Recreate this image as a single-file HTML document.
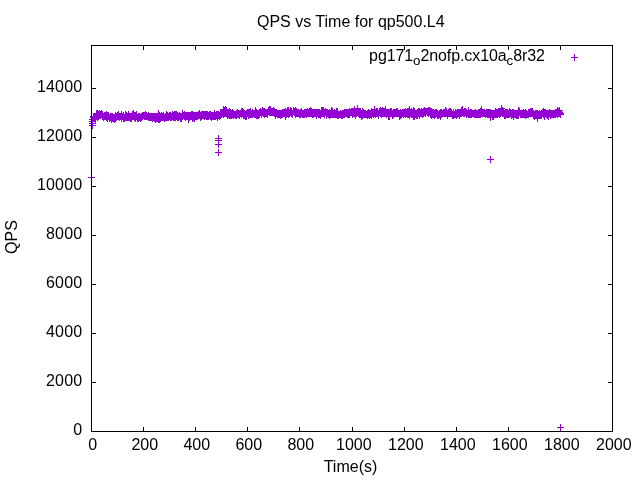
<!DOCTYPE html><html><head><meta charset="utf-8"><title>QPS vs Time for qp500.L4</title>
<style>html,body{margin:0;padding:0;background:#fff;overflow:hidden}svg{display:block}text{font-family:"Liberation Sans",sans-serif;font-size:16px;fill:#000}</style></head><body>
<svg width="640" height="480" viewBox="0 0 640 480">
<rect width="640" height="480" fill="#fff"/>
<path d="M91.5 431.5h4.5M612.5 431.5h-4.5M91.5 382.5h4.5M612.5 382.5h-4.5M91.5 333.5h4.5M612.5 333.5h-4.5M91.5 284.5h4.5M612.5 284.5h-4.5M91.5 235.5h4.5M612.5 235.5h-4.5M91.5 186.5h4.5M612.5 186.5h-4.5M91.5 137.5h4.5M612.5 137.5h-4.5M91.5 88.5h4.5M612.5 88.5h-4.5M91.5 431.5v-4.5M91.5 45.5v4.5M143.5 431.5v-4.5M143.5 45.5v4.5M195.5 431.5v-4.5M195.5 45.5v4.5M247.5 431.5v-4.5M247.5 45.5v4.5M299.5 431.5v-4.5M299.5 45.5v4.5M352.5 431.5v-4.5M352.5 45.5v4.5M404.5 431.5v-4.5M404.5 45.5v4.5M456.5 431.5v-4.5M456.5 45.5v4.5M508.5 431.5v-4.5M508.5 45.5v4.5M560.5 431.5v-4.5M560.5 45.5v4.5M612.5 431.5v-4.5M612.5 45.5v4.5" stroke="#000" stroke-width="1" fill="none"/>
<path d="M94.5 117 95.5 117 96.5 115 97.5 115 98.5 115 99.5 115 100.5 115 101.5 115 102.5 117 104.5 117 105.5 117 106.5 117 107.5 117 108.5 117 109.5 117 110.5 117 111.5 117 112.5 117 113.5 117 114.5 117 115.5 117 116.5 117 117.5 117 118.5 117 119.5 117 120.5 117 121.5 117 122.5 117 123.5 117 124.5 117 125.5 116 126.5 116 127.5 116 129.5 116 130.5 116 131.5 116 132.5 116 133.5 116 134.5 116 135.5 116 136.5 116 137.5 116 138.5 116 139.5 116 140.5 116 141.5 116 142.5 116 143.5 116 144.5 116 145.5 116 146.5 116 147.5 116 148.5 116 149.5 116 150.5 116 151.5 116 152.5 116 154.5 116 155.5 116 156.5 116 157.5 116 158.5 116 159.5 116 160.5 116 161.5 116 162.5 116 163.5 116 164.5 116 165.5 116 166.5 116 167.5 116 168.5 116 169.5 116 170.5 116 171.5 116 172.5 116 173.5 116 174.5 116 175.5 116 176.5 116 177.5 116 179.5 116 180.5 116 181.5 116 182.5 116 183.5 116 184.5 116 185.5 116 186.5 116 187.5 116 188.5 116 189.5 116 190.5 116 191.5 116 192.5 116 193.5 116 194.5 116 195.5 116 196.5 116 197.5 116 198.5 116 199.5 116 200.5 116 201.5 116 202.5 116 204.5 116 205.5 116 206.5 116 207.5 116 208.5 116 209.5 116 210.5 116 211.5 116 212.5 116 213.5 116 214.5 116 215.5 116 216.5 116 217.5 115 218.5 115 219.5 115 220.5 114 221.5 114 222.5 113 223.5 113 224.5 113 225.5 113 226.5 113 228.5 113 229.5 113 230.5 113 231.5 113 232.5 113 233.5 113 234.5 113 235.5 113 236.5 113 237.5 113 238.5 113 239.5 113 240.5 113 241.5 113 242.5 113 243.5 113 244.5 113 245.5 113 246.5 113 247.5 113 248.5 113 249.5 113 250.5 113 251.5 113 253.5 113 254.5 113 255.5 113 256.5 113 257.5 113 258.5 113 259.5 113 260.5 113 261.5 113 262.5 113 263.5 113 264.5 113 265.5 113 266.5 113 267.5 113 268.5 113 269.5 113 270.5 113 271.5 113 272.5 113 273.5 113 274.5 113 275.5 113 276.5 113 278.5 113 279.5 113 280.5 113 281.5 113 282.5 113 283.5 113 284.5 113 285.5 113 286.5 113 287.5 113 288.5 113 289.5 113 290.5 113 291.5 113 292.5 113 293.5 113 294.5 113 295.5 113 296.5 113 297.5 113 298.5 113 299.5 113 300.5 113 301.5 113 303.5 113 304.5 113 305.5 113 306.5 113 307.5 113 308.5 113 309.5 113 310.5 113 311.5 113 312.5 113 313.5 113 314.5 113 315.5 113 316.5 113 317.5 113 318.5 113 319.5 113 320.5 113 321.5 113 322.5 113 323.5 113 324.5 113 325.5 113 326.5 113 328.5 113 329.5 113 330.5 113 331.5 113 332.5 113 333.5 113 334.5 113 335.5 113 336.5 113 337.5 113 338.5 113 339.5 113 340.5 113 341.5 113 342.5 113 343.5 113 344.5 113 345.5 113 346.5 113 347.5 113 348.5 113 349.5 113 350.5 113 352.5 113 353.5 113 354.5 113 355.5 113 356.5 113 357.5 113 358.5 113 359.5 113 360.5 113 361.5 113 362.5 113 363.5 113 364.5 113 365.5 113 366.5 113 367.5 113 368.5 113 369.5 113 370.5 113 371.5 113 372.5 113 373.5 113 374.5 113 375.5 113 377.5 113 378.5 113 379.5 113 380.5 113 381.5 113 382.5 113 383.5 113 384.5 113 385.5 113 386.5 113 387.5 113 388.5 113 389.5 113 390.5 113 391.5 113 392.5 113 393.5 113 394.5 113 395.5 113 396.5 113 397.5 113 398.5 113 399.5 113 400.5 113 402.5 113 403.5 113 404.5 113 405.5 113 406.5 113 407.5 113 408.5 113 409.5 113 410.5 113 411.5 113 412.5 113 413.5 113 414.5 113 415.5 113 416.5 113 417.5 113 418.5 113 419.5 113 420.5 113 421.5 113 422.5 113 423.5 113 424.5 113 425.5 113 427.5 113 428.5 113 429.5 113 430.5 113 431.5 113 432.5 113 433.5 113 434.5 113 435.5 113 436.5 113 437.5 113 438.5 113 439.5 113 440.5 113 441.5 113 442.5 113 443.5 113 444.5 113 445.5 113 446.5 113 447.5 113 448.5 113 449.5 113 450.5 113 452.5 113 453.5 113 454.5 113 455.5 113 456.5 113 457.5 113 458.5 113 459.5 113 460.5 113 461.5 113 462.5 113 463.5 113 464.5 113 465.5 113 466.5 113 467.5 113 468.5 113 469.5 113 470.5 113 471.5 113 472.5 113 473.5 113 474.5 113 475.5 113 477.5 113 478.5 113 479.5 113 480.5 113 481.5 113 482.5 113 483.5 113 484.5 113 485.5 113 486.5 113 487.5 113 488.5 113 489.5 113 490.5 113 491.5 113 492.5 113 493.5 113 494.5 113 495.5 113 496.5 113 497.5 113 498.5 113 499.5 113 501.5 113 502.5 113 503.5 113 504.5 113 505.5 113 506.5 113 507.5 113 508.5 113 509.5 113 510.5 113 511.5 113 512.5 113 513.5 113 514.5 113 515.5 113 516.5 113 517.5 113 518.5 113 519.5 113 520.5 113 521.5 113 522.5 113 523.5 113 524.5 113 526.5 113 527.5 113 528.5 113 529.5 113 530.5 113 531.5 113 532.5 113 533.5 113 534.5 113 535.5 113 536.5 113 537.5 113 538.5 113 539.5 113 540.5 113 541.5 113 542.5 113 543.5 113 544.5 113 545.5 113 546.5 113 547.5 113 548.5 113 549.5 113 551.5 113 552.5 113 553.5 113 554.5 113 555.5 113 556.5 113 557.5 113" stroke="#9400d3" stroke-width="3" fill="none"/>
<path d="M89 125.5h7M92.5 122v7M89 123.5h7M92.5 120v7M89 121.5h7M92.5 118v7M89 119.5h7M92.5 116v7M90 117.5h7M93.5 114v7M90 116.5h7M93.5 113v7M91 116.5h7M94.5 113v7M93 116.5h7M96.5 113v7M94 117.5h7M97.5 114v7M91 117.5h7M94.5 114v7M92 119.5h7M95.5 116v7M92 116.5h7M95.5 113v7M92 117.5h7M95.5 114v7M93 115.5h7M96.5 112v7M93 114.5h7M96.5 111v7M93 113.5h7M96.5 110v7M94 114.5h7M97.5 111v7M94 113.5h7M97.5 110v7M95 114.5h7M98.5 111v7M95 115.5h7M98.5 112v7M96 114.5h7M99.5 111v7M96 113.5h7M99.5 110v7M96 115.5h7M99.5 112v7M97 114.5h7M100.5 111v7M97 115.5h7M100.5 112v7M98 113.5h7M101.5 110v7M98 114.5h7M101.5 111v7M99 114.5h7M102.5 111v7M99 116.5h7M102.5 113v7M100 117.5h7M103.5 114v7M100 116.5h7M103.5 113v7M101 115.5h7M104.5 112v7M101 116.5h7M104.5 113v7M102 116.5h7M105.5 113v7M102 115.5h7M105.5 112v7M103 114.5h7M106.5 111v7M103 116.5h7M106.5 113v7M103 117.5h7M106.5 114v7M104 116.5h7M107.5 113v7M104 118.5h7M107.5 115v7M104 115.5h7M107.5 112v7M104 117.5h7M107.5 114v7M105 116.5h7M108.5 113v7M105 115.5h7M108.5 112v7M106 117.5h7M109.5 114v7M106 118.5h7M109.5 115v7M107 116.5h7M110.5 113v7M107 117.5h7M110.5 114v7M108 119.5h7M111.5 116v7M108 118.5h7M111.5 115v7M108 116.5h7M111.5 113v7M109 116.5h7M112.5 113v7M109 118.5h7M112.5 115v7M109 117.5h7M112.5 114v7M110 117.5h7M113.5 114v7M110 118.5h7M113.5 115v7M111 117.5h7M114.5 114v7M111 118.5h7M114.5 115v7M111 119.5h7M114.5 116v7M112 118.5h7M115.5 115v7M112 117.5h7M115.5 114v7M112 115.5h7M115.5 112v7M113 117.5h7M116.5 114v7M113 116.5h7M116.5 113v7M114 115.5h7M117.5 112v7M114 116.5h7M117.5 113v7M115 115.5h7M118.5 112v7M115 114.5h7M118.5 111v7M115 116.5h7M118.5 113v7M116 116.5h7M119.5 113v7M116 117.5h7M119.5 114v7M117 116.5h7M120.5 113v7M118 118.5h7M121.5 115v7M118 116.5h7M121.5 113v7M118 114.5h7M121.5 111v7M119 116.5h7M122.5 113v7M120 118.5h7M123.5 115v7M120 115.5h7M123.5 112v7M120 117.5h7M123.5 114v7M121 118.5h7M124.5 115v7M121 117.5h7M124.5 114v7M122 117.5h7M125.5 114v7M122 116.5h7M125.5 113v7M122 114.5h7M125.5 111v7M123 117.5h7M126.5 114v7M123 115.5h7M126.5 112v7M124 116.5h7M127.5 113v7M124 117.5h7M127.5 114v7M125 117.5h7M128.5 114v7M125 114.5h7M128.5 111v7M125 116.5h7M128.5 113v7M126 116.5h7M129.5 113v7M126 117.5h7M129.5 114v7M127 116.5h7M130.5 113v7M127 118.5h7M130.5 115v7M128 116.5h7M131.5 113v7M128 117.5h7M131.5 114v7M128 118.5h7M131.5 115v7M129 116.5h7M132.5 113v7M129 114.5h7M132.5 111v7M130 113.5h7M133.5 110v7M130 115.5h7M133.5 112v7M130 116.5h7M133.5 113v7M131 117.5h7M134.5 114v7M131 116.5h7M134.5 113v7M131 115.5h7M134.5 112v7M132 115.5h7M135.5 112v7M132 117.5h7M135.5 114v7M132 118.5h7M135.5 115v7M132 116.5h7M135.5 113v7M133 115.5h7M136.5 112v7M133 114.5h7M136.5 111v7M133 116.5h7M136.5 113v7M134 117.5h7M137.5 114v7M134 118.5h7M137.5 115v7M135 117.5h7M138.5 114v7M135 116.5h7M138.5 113v7M135 118.5h7M138.5 115v7M136 116.5h7M139.5 113v7M136 117.5h7M139.5 114v7M137 117.5h7M140.5 114v7M137 118.5h7M140.5 115v7M138 117.5h7M141.5 114v7M138 116.5h7M141.5 113v7M139 116.5h7M142.5 113v7M139 115.5h7M142.5 112v7M140 115.5h7M143.5 112v7M141 116.5h7M144.5 113v7M141 115.5h7M144.5 112v7M142 115.5h7M145.5 112v7M142 116.5h7M145.5 113v7M142 114.5h7M145.5 111v7M143 115.5h7M146.5 112v7M143 116.5h7M146.5 113v7M144 116.5h7M147.5 113v7M145 117.5h7M148.5 114v7M145 115.5h7M148.5 112v7M145 116.5h7M148.5 113v7M146 117.5h7M149.5 114v7M146 116.5h7M149.5 113v7M147 116.5h7M150.5 113v7M147 117.5h7M150.5 114v7M148 116.5h7M151.5 113v7M148 117.5h7M151.5 114v7M149 118.5h7M152.5 115v7M149 116.5h7M152.5 113v7M150 116.5h7M153.5 113v7M150 117.5h7M153.5 114v7M151 118.5h7M154.5 115v7M151 116.5h7M154.5 113v7M151 117.5h7M154.5 114v7M152 119.5h7M155.5 116v7M152 118.5h7M155.5 115v7M152 117.5h7M155.5 114v7M153 117.5h7M156.5 114v7M153 118.5h7M156.5 115v7M153 116.5h7M156.5 113v7M154 116.5h7M157.5 113v7M154 117.5h7M157.5 114v7M154 118.5h7M157.5 115v7M155 119.5h7M158.5 116v7M155 117.5h7M158.5 114v7M155 113.5h7M158.5 110v7M155 115.5h7M158.5 112v7M156 115.5h7M159.5 112v7M156 119.5h7M159.5 116v7M157 117.5h7M160.5 114v7M157 116.5h7M160.5 113v7M157 118.5h7M160.5 115v7M158 115.5h7M161.5 112v7M158 116.5h7M161.5 113v7M158 117.5h7M161.5 114v7M159 116.5h7M162.5 113v7M159 117.5h7M162.5 114v7M160 116.5h7M163.5 113v7M160 117.5h7M163.5 114v7M160 115.5h7M163.5 112v7M161 117.5h7M164.5 114v7M161 118.5h7M164.5 115v7M162 117.5h7M165.5 114v7M162 116.5h7M165.5 113v7M163 115.5h7M166.5 112v7M163 116.5h7M166.5 113v7M163 117.5h7M166.5 114v7M163 114.5h7M166.5 111v7M164 116.5h7M167.5 113v7M164 115.5h7M167.5 112v7M164 117.5h7M167.5 114v7M165 117.5h7M168.5 114v7M165 116.5h7M168.5 113v7M166 115.5h7M169.5 112v7M166 116.5h7M169.5 113v7M167 116.5h7M170.5 113v7M167 117.5h7M170.5 114v7M167 115.5h7M170.5 112v7M168 117.5h7M171.5 114v7M168 116.5h7M171.5 113v7M169 114.5h7M172.5 111v7M169 116.5h7M172.5 113v7M170 116.5h7M173.5 113v7M170 117.5h7M173.5 114v7M170 115.5h7M173.5 112v7M171 117.5h7M174.5 114v7M171 115.5h7M174.5 112v7M171 114.5h7M174.5 111v7M171 116.5h7M174.5 113v7M172 115.5h7M175.5 112v7M172 116.5h7M175.5 113v7M172 117.5h7M175.5 114v7M172 114.5h7M175.5 111v7M173 114.5h7M176.5 111v7M173 116.5h7M176.5 113v7M174 116.5h7M177.5 113v7M174 117.5h7M177.5 114v7M174 115.5h7M177.5 112v7M175 116.5h7M178.5 113v7M175 117.5h7M178.5 114v7M176 115.5h7M179.5 112v7M176 116.5h7M179.5 113v7M177 117.5h7M180.5 114v7M177 116.5h7M180.5 113v7M177 118.5h7M180.5 115v7M178 116.5h7M181.5 113v7M178 117.5h7M181.5 114v7M178 118.5h7M181.5 115v7M179 115.5h7M182.5 112v7M179 116.5h7M182.5 113v7M179 113.5h7M182.5 110v7M180 115.5h7M183.5 112v7M181 114.5h7M184.5 111v7M181 116.5h7M184.5 113v7M182 116.5h7M185.5 113v7M182 115.5h7M185.5 112v7M182 117.5h7M185.5 114v7M183 116.5h7M186.5 113v7M183 115.5h7M186.5 112v7M184 115.5h7M187.5 112v7M184 116.5h7M187.5 113v7M185 119.5h7M188.5 116v7M185 115.5h7M188.5 112v7M186 115.5h7M189.5 112v7M186 116.5h7M189.5 113v7M186 117.5h7M189.5 114v7M187 116.5h7M190.5 113v7M187 115.5h7M190.5 112v7M188 115.5h7M191.5 112v7M188 114.5h7M191.5 111v7M189 114.5h7M192.5 111v7M189 115.5h7M192.5 112v7M189 116.5h7M192.5 113v7M189 118.5h7M192.5 115v7M190 116.5h7M193.5 113v7M190 115.5h7M193.5 112v7M190 117.5h7M193.5 114v7M191 116.5h7M194.5 113v7M191 115.5h7M194.5 112v7M191 118.5h7M194.5 115v7M192 115.5h7M195.5 112v7M192 116.5h7M195.5 113v7M193 116.5h7M196.5 113v7M193 115.5h7M196.5 112v7M194 116.5h7M197.5 113v7M194 115.5h7M197.5 112v7M195 114.5h7M198.5 111v7M195 115.5h7M198.5 112v7M196 114.5h7M199.5 111v7M196 115.5h7M199.5 112v7M196 113.5h7M199.5 110v7M197 115.5h7M200.5 112v7M197 116.5h7M200.5 113v7M197 117.5h7M200.5 114v7M198 116.5h7M201.5 113v7M198 114.5h7M201.5 111v7M198 115.5h7M201.5 112v7M199 114.5h7M202.5 111v7M199 115.5h7M202.5 112v7M200 115.5h7M203.5 112v7M200 114.5h7M203.5 111v7M201 114.5h7M204.5 111v7M201 115.5h7M204.5 112v7M201 116.5h7M204.5 113v7M202 114.5h7M205.5 111v7M202 115.5h7M205.5 112v7M203 116.5h7M206.5 113v7M203 115.5h7M206.5 112v7M203 114.5h7M206.5 111v7M204 115.5h7M207.5 112v7M204 114.5h7M207.5 111v7M204 116.5h7M207.5 113v7M205 116.5h7M208.5 113v7M205 115.5h7M208.5 112v7M206 115.5h7M209.5 112v7M206 114.5h7M209.5 111v7M207 115.5h7M210.5 112v7M207 114.5h7M210.5 111v7M207 116.5h7M210.5 113v7M208 116.5h7M211.5 113v7M208 117.5h7M211.5 114v7M208 115.5h7M211.5 112v7M209 116.5h7M212.5 113v7M209 115.5h7M212.5 112v7M210 116.5h7M213.5 113v7M210 115.5h7M213.5 112v7M211 113.5h7M214.5 110v7M211 114.5h7M214.5 111v7M211 115.5h7M214.5 112v7M211 116.5h7M214.5 113v7M212 116.5h7M215.5 113v7M212 115.5h7M215.5 112v7M213 115.5h7M216.5 112v7M213 114.5h7M216.5 111v7M214 114.5h7M217.5 111v7M214 117.5h7M217.5 114v7M214 115.5h7M217.5 112v7M215 115.5h7M218.5 112v7M215 114.5h7M218.5 111v7M216 115.5h7M219.5 112v7M216 116.5h7M219.5 113v7M217 115.5h7M220.5 112v7M217 113.5h7M220.5 110v7M218 114.5h7M221.5 111v7M218 112.5h7M221.5 109v7M219 113.5h7M222.5 110v7M220 114.5h7M223.5 111v7M220 111.5h7M223.5 108v7M220 109.5h7M223.5 106v7M220 112.5h7M223.5 109v7M221 113.5h7M224.5 110v7M221 110.5h7M224.5 107v7M222 109.5h7M225.5 106v7M222 112.5h7M225.5 109v7M222 113.5h7M225.5 110v7M223 112.5h7M226.5 109v7M223 113.5h7M226.5 110v7M223 111.5h7M226.5 108v7M223 110.5h7M226.5 107v7M224 113.5h7M227.5 110v7M224 114.5h7M227.5 111v7M224 115.5h7M227.5 112v7M225 114.5h7M228.5 111v7M225 113.5h7M228.5 110v7M225 112.5h7M228.5 109v7M226 111.5h7M229.5 108v7M226 115.5h7M229.5 112v7M226 113.5h7M229.5 110v7M226 112.5h7M229.5 109v7M227 114.5h7M230.5 111v7M227 113.5h7M230.5 110v7M227 112.5h7M230.5 109v7M227 115.5h7M230.5 112v7M228 113.5h7M231.5 110v7M228 115.5h7M231.5 112v7M228 114.5h7M231.5 111v7M229 114.5h7M232.5 111v7M229 113.5h7M232.5 110v7M229 112.5h7M232.5 109v7M230 114.5h7M233.5 111v7M230 115.5h7M233.5 112v7M230 113.5h7M233.5 110v7M231 114.5h7M234.5 111v7M232 114.5h7M235.5 111v7M232 115.5h7M235.5 112v7M233 114.5h7M236.5 111v7M233 113.5h7M236.5 110v7M233 115.5h7M236.5 112v7M234 112.5h7M237.5 109v7M234 113.5h7M237.5 110v7M234 114.5h7M237.5 111v7M235 113.5h7M238.5 110v7M235 114.5h7M238.5 111v7M236 115.5h7M239.5 112v7M236 113.5h7M239.5 110v7M236 114.5h7M239.5 111v7M237 113.5h7M240.5 110v7M238 111.5h7M241.5 108v7M238 112.5h7M241.5 109v7M238 114.5h7M241.5 111v7M239 111.5h7M242.5 108v7M239 112.5h7M242.5 109v7M239 113.5h7M242.5 110v7M240 112.5h7M243.5 109v7M240 113.5h7M243.5 110v7M240 115.5h7M243.5 112v7M240 114.5h7M243.5 111v7M241 113.5h7M244.5 110v7M241 114.5h7M244.5 111v7M241 115.5h7M244.5 112v7M242 115.5h7M245.5 112v7M242 116.5h7M245.5 113v7M243 116.5h7M246.5 113v7M243 114.5h7M246.5 111v7M243 113.5h7M246.5 110v7M244 112.5h7M247.5 109v7M244 113.5h7M247.5 110v7M245 115.5h7M248.5 112v7M245 112.5h7M248.5 109v7M245 114.5h7M248.5 111v7M245 113.5h7M248.5 110v7M246 114.5h7M249.5 111v7M246 112.5h7M249.5 109v7M246 113.5h7M249.5 110v7M247 114.5h7M250.5 111v7M247 111.5h7M250.5 108v7M247 113.5h7M250.5 110v7M248 113.5h7M251.5 110v7M248 114.5h7M251.5 111v7M249 112.5h7M252.5 109v7M249 114.5h7M252.5 111v7M250 113.5h7M253.5 110v7M251 113.5h7M254.5 110v7M251 114.5h7M254.5 111v7M252 114.5h7M255.5 111v7M252 110.5h7M255.5 107v7M253 115.5h7M256.5 112v7M253 114.5h7M256.5 111v7M253 112.5h7M256.5 109v7M253 113.5h7M256.5 110v7M254 115.5h7M257.5 112v7M254 114.5h7M257.5 111v7M255 114.5h7M258.5 111v7M255 115.5h7M258.5 112v7M255 113.5h7M258.5 110v7M256 113.5h7M259.5 110v7M256 114.5h7M259.5 111v7M256 112.5h7M259.5 109v7M257 111.5h7M260.5 108v7M257 112.5h7M260.5 109v7M258 114.5h7M261.5 111v7M258 112.5h7M261.5 109v7M258 113.5h7M261.5 110v7M259 112.5h7M262.5 109v7M259 111.5h7M262.5 108v7M259 110.5h7M262.5 107v7M260 111.5h7M263.5 108v7M260 113.5h7M263.5 110v7M260 112.5h7M263.5 109v7M261 111.5h7M264.5 108v7M261 113.5h7M264.5 110v7M261 114.5h7M264.5 111v7M262 113.5h7M265.5 110v7M262 112.5h7M265.5 109v7M263 112.5h7M266.5 109v7M263 113.5h7M266.5 110v7M264 113.5h7M267.5 110v7M264 112.5h7M267.5 109v7M264 114.5h7M267.5 111v7M265 110.5h7M268.5 107v7M265 111.5h7M268.5 108v7M266 112.5h7M269.5 109v7M266 111.5h7M269.5 108v7M266 109.5h7M269.5 106v7M267 110.5h7M270.5 107v7M267 112.5h7M270.5 109v7M267 109.5h7M270.5 106v7M268 111.5h7M271.5 108v7M268 112.5h7M271.5 109v7M269 111.5h7M272.5 108v7M269 112.5h7M272.5 109v7M270 111.5h7M273.5 108v7M270 110.5h7M273.5 107v7M271 113.5h7M274.5 110v7M271 112.5h7M274.5 109v7M271 111.5h7M274.5 108v7M272 113.5h7M275.5 110v7M272 112.5h7M275.5 109v7M272 115.5h7M275.5 112v7M273 113.5h7M276.5 110v7M273 112.5h7M276.5 109v7M274 113.5h7M277.5 110v7M274 114.5h7M277.5 111v7M275 113.5h7M278.5 110v7M275 114.5h7M278.5 111v7M276 113.5h7M279.5 110v7M276 114.5h7M279.5 111v7M277 115.5h7M280.5 112v7M277 113.5h7M280.5 110v7M277 114.5h7M280.5 111v7M278 114.5h7M281.5 111v7M278 113.5h7M281.5 110v7M279 113.5h7M282.5 110v7M279 114.5h7M282.5 111v7M279 112.5h7M282.5 109v7M280 112.5h7M283.5 109v7M280 113.5h7M283.5 110v7M281 112.5h7M284.5 109v7M281 113.5h7M284.5 110v7M282 111.5h7M285.5 108v7M282 116.5h7M285.5 113v7M282 113.5h7M285.5 110v7M283 114.5h7M286.5 111v7M283 113.5h7M286.5 110v7M283 112.5h7M286.5 109v7M284 112.5h7M287.5 109v7M284 111.5h7M287.5 108v7M284 110.5h7M287.5 107v7M285 110.5h7M288.5 107v7M285 111.5h7M288.5 108v7M285 114.5h7M288.5 111v7M285 112.5h7M288.5 109v7M286 112.5h7M289.5 109v7M286 113.5h7M289.5 110v7M287 112.5h7M290.5 109v7M287 110.5h7M290.5 107v7M288 111.5h7M291.5 108v7M288 112.5h7M291.5 109v7M288 113.5h7M291.5 110v7M289 114.5h7M292.5 111v7M289 113.5h7M292.5 110v7M290 111.5h7M293.5 108v7M290 110.5h7M293.5 107v7M291 112.5h7M294.5 109v7M291 111.5h7M294.5 108v7M292 114.5h7M295.5 111v7M292 110.5h7M295.5 107v7M292 113.5h7M295.5 110v7M292 111.5h7M295.5 108v7M293 111.5h7M296.5 108v7M293 112.5h7M296.5 109v7M293 113.5h7M296.5 110v7M294 113.5h7M297.5 110v7M294 112.5h7M297.5 109v7M295 113.5h7M298.5 110v7M295 112.5h7M298.5 109v7M296 113.5h7M299.5 110v7M296 114.5h7M299.5 111v7M297 113.5h7M300.5 110v7M297 112.5h7M300.5 109v7M297 114.5h7M300.5 111v7M298 113.5h7M301.5 110v7M298 111.5h7M301.5 108v7M298 112.5h7M301.5 109v7M299 113.5h7M302.5 110v7M299 114.5h7M302.5 111v7M300 114.5h7M303.5 111v7M300 113.5h7M303.5 110v7M301 114.5h7M304.5 111v7M301 112.5h7M304.5 109v7M302 113.5h7M305.5 110v7M302 112.5h7M305.5 109v7M303 114.5h7M306.5 111v7M303 112.5h7M306.5 109v7M304 112.5h7M307.5 109v7M304 113.5h7M307.5 110v7M304 111.5h7M307.5 108v7M305 112.5h7M308.5 109v7M305 113.5h7M308.5 110v7M306 112.5h7M309.5 109v7M306 111.5h7M309.5 108v7M306 113.5h7M309.5 110v7M307 112.5h7M310.5 109v7M307 110.5h7M310.5 107v7M307 113.5h7M310.5 110v7M308 112.5h7M311.5 109v7M308 113.5h7M311.5 110v7M308 111.5h7M311.5 108v7M309 112.5h7M312.5 109v7M309 114.5h7M312.5 111v7M310 114.5h7M313.5 111v7M310 112.5h7M313.5 109v7M311 113.5h7M314.5 110v7M311 112.5h7M314.5 109v7M312 112.5h7M315.5 109v7M312 113.5h7M315.5 110v7M313 113.5h7M316.5 110v7M313 115.5h7M316.5 112v7M313 112.5h7M316.5 109v7M314 113.5h7M317.5 110v7M314 112.5h7M317.5 109v7M315 113.5h7M318.5 110v7M315 114.5h7M318.5 111v7M315 112.5h7M318.5 109v7M316 113.5h7M319.5 110v7M316 114.5h7M319.5 111v7M316 112.5h7M319.5 109v7M317 115.5h7M320.5 112v7M317 113.5h7M320.5 110v7M318 113.5h7M321.5 110v7M318 112.5h7M321.5 109v7M318 110.5h7M321.5 107v7M319 111.5h7M322.5 108v7M319 113.5h7M322.5 110v7M319 110.5h7M322.5 107v7M320 111.5h7M323.5 108v7M320 113.5h7M323.5 110v7M320 110.5h7M323.5 107v7M321 113.5h7M324.5 110v7M321 112.5h7M324.5 109v7M321 114.5h7M324.5 111v7M322 112.5h7M325.5 109v7M322 111.5h7M325.5 108v7M323 112.5h7M326.5 109v7M323 113.5h7M326.5 110v7M323 115.5h7M326.5 112v7M323 114.5h7M326.5 111v7M324 113.5h7M327.5 110v7M324 112.5h7M327.5 109v7M325 113.5h7M328.5 110v7M325 114.5h7M328.5 111v7M326 115.5h7M329.5 112v7M326 113.5h7M329.5 110v7M326 112.5h7M329.5 109v7M327 114.5h7M330.5 111v7M327 113.5h7M330.5 110v7M328 114.5h7M331.5 111v7M328 113.5h7M331.5 110v7M328 110.5h7M331.5 107v7M329 113.5h7M332.5 110v7M329 111.5h7M332.5 108v7M329 114.5h7M332.5 111v7M330 114.5h7M333.5 111v7M330 113.5h7M333.5 110v7M331 112.5h7M334.5 109v7M331 113.5h7M334.5 110v7M331 114.5h7M334.5 111v7M332 113.5h7M335.5 110v7M332 114.5h7M335.5 111v7M333 114.5h7M336.5 111v7M333 111.5h7M336.5 108v7M333 113.5h7M336.5 110v7M333 112.5h7M336.5 109v7M334 113.5h7M337.5 110v7M334 111.5h7M337.5 108v7M334 115.5h7M337.5 112v7M335 114.5h7M338.5 111v7M335 115.5h7M338.5 112v7M336 114.5h7M339.5 111v7M337 113.5h7M340.5 110v7M337 114.5h7M340.5 111v7M338 114.5h7M341.5 111v7M338 115.5h7M341.5 112v7M339 113.5h7M342.5 110v7M339 115.5h7M342.5 112v7M339 114.5h7M342.5 111v7M340 113.5h7M343.5 110v7M340 114.5h7M343.5 111v7M341 113.5h7M344.5 110v7M341 114.5h7M344.5 111v7M341 112.5h7M344.5 109v7M342 113.5h7M345.5 110v7M342 112.5h7M345.5 109v7M343 112.5h7M346.5 109v7M343 113.5h7M346.5 110v7M344 114.5h7M347.5 111v7M344 112.5h7M347.5 109v7M344 113.5h7M347.5 110v7M345 112.5h7M348.5 109v7M345 113.5h7M348.5 110v7M345 114.5h7M348.5 111v7M346 113.5h7M349.5 110v7M346 112.5h7M349.5 109v7M346 114.5h7M349.5 111v7M346 111.5h7M349.5 108v7M347 112.5h7M350.5 109v7M348 112.5h7M351.5 109v7M348 111.5h7M351.5 108v7M349 112.5h7M352.5 109v7M349 114.5h7M352.5 111v7M349 111.5h7M352.5 108v7M350 112.5h7M353.5 109v7M350 111.5h7M353.5 108v7M350 113.5h7M353.5 110v7M351 113.5h7M354.5 110v7M351 112.5h7M354.5 109v7M351 109.5h7M354.5 106v7M352 112.5h7M355.5 109v7M352 111.5h7M355.5 108v7M352 115.5h7M355.5 112v7M352 113.5h7M355.5 110v7M353 113.5h7M356.5 110v7M353 112.5h7M356.5 109v7M354 110.5h7M357.5 107v7M354 111.5h7M357.5 108v7M354 112.5h7M357.5 109v7M354 108.5h7M357.5 105v7M355 111.5h7M358.5 108v7M356 112.5h7M359.5 109v7M356 113.5h7M359.5 110v7M356 114.5h7M359.5 111v7M357 112.5h7M360.5 109v7M357 111.5h7M360.5 108v7M357 114.5h7M360.5 111v7M358 114.5h7M361.5 111v7M358 113.5h7M361.5 110v7M358 116.5h7M361.5 113v7M359 115.5h7M362.5 112v7M359 113.5h7M362.5 110v7M359 114.5h7M362.5 111v7M359 111.5h7M362.5 108v7M360 114.5h7M363.5 111v7M360 113.5h7M363.5 110v7M360 112.5h7M363.5 109v7M361 114.5h7M364.5 111v7M361 113.5h7M364.5 110v7M362 113.5h7M365.5 110v7M362 114.5h7M365.5 111v7M363 114.5h7M366.5 111v7M364 115.5h7M367.5 112v7M364 114.5h7M367.5 111v7M364 113.5h7M367.5 110v7M365 114.5h7M368.5 111v7M365 113.5h7M368.5 110v7M365 112.5h7M368.5 109v7M366 113.5h7M369.5 110v7M366 115.5h7M369.5 112v7M367 113.5h7M370.5 110v7M367 114.5h7M370.5 111v7M368 112.5h7M371.5 109v7M368 111.5h7M371.5 108v7M368 115.5h7M371.5 112v7M369 113.5h7M372.5 110v7M369 112.5h7M372.5 109v7M370 113.5h7M373.5 110v7M370 114.5h7M373.5 111v7M370 112.5h7M373.5 109v7M371 113.5h7M374.5 110v7M371 112.5h7M374.5 109v7M371 109.5h7M374.5 106v7M372 112.5h7M375.5 109v7M372 114.5h7M375.5 111v7M372 113.5h7M375.5 110v7M373 113.5h7M376.5 110v7M373 111.5h7M376.5 108v7M374 111.5h7M377.5 108v7M374 112.5h7M377.5 109v7M374 113.5h7M377.5 110v7M375 115.5h7M378.5 112v7M375 114.5h7M378.5 111v7M375 113.5h7M378.5 110v7M376 112.5h7M379.5 109v7M376 111.5h7M379.5 108v7M377 111.5h7M380.5 108v7M377 110.5h7M380.5 107v7M377 112.5h7M380.5 109v7M377 113.5h7M380.5 110v7M378 114.5h7M381.5 111v7M378 113.5h7M381.5 110v7M378 111.5h7M381.5 108v7M378 112.5h7M381.5 109v7M379 113.5h7M382.5 110v7M379 112.5h7M382.5 109v7M379 110.5h7M382.5 107v7M379 111.5h7M382.5 108v7M380 111.5h7M383.5 108v7M380 113.5h7M383.5 110v7M381 111.5h7M384.5 108v7M381 113.5h7M384.5 110v7M381 112.5h7M384.5 109v7M382 113.5h7M385.5 110v7M382 111.5h7M385.5 108v7M382 112.5h7M385.5 109v7M382 109.5h7M385.5 106v7M383 112.5h7M386.5 109v7M383 114.5h7M386.5 111v7M384 113.5h7M387.5 110v7M385 112.5h7M388.5 109v7M385 113.5h7M388.5 110v7M385 114.5h7M388.5 111v7M385 116.5h7M388.5 113v7M386 116.5h7M389.5 113v7M386 112.5h7M389.5 109v7M386 114.5h7M389.5 111v7M387 111.5h7M390.5 108v7M387 112.5h7M390.5 109v7M388 113.5h7M391.5 110v7M388 111.5h7M391.5 108v7M389 113.5h7M392.5 110v7M389 115.5h7M392.5 112v7M389 114.5h7M392.5 111v7M390 112.5h7M393.5 109v7M390 114.5h7M393.5 111v7M390 113.5h7M393.5 110v7M391 113.5h7M394.5 110v7M391 112.5h7M394.5 109v7M392 113.5h7M395.5 110v7M392 112.5h7M395.5 109v7M393 113.5h7M396.5 110v7M393 112.5h7M396.5 109v7M393 111.5h7M396.5 108v7M394 111.5h7M397.5 108v7M394 112.5h7M397.5 109v7M395 113.5h7M398.5 110v7M396 116.5h7M399.5 113v7M396 113.5h7M399.5 110v7M397 114.5h7M400.5 111v7M397 115.5h7M400.5 112v7M397 112.5h7M400.5 109v7M397 113.5h7M400.5 110v7M398 113.5h7M401.5 110v7M398 114.5h7M401.5 111v7M399 113.5h7M402.5 110v7M399 112.5h7M402.5 109v7M400 113.5h7M403.5 110v7M400 114.5h7M403.5 111v7M400 112.5h7M403.5 109v7M401 112.5h7M404.5 109v7M401 113.5h7M404.5 110v7M402 112.5h7M405.5 109v7M402 111.5h7M405.5 108v7M402 114.5h7M405.5 111v7M403 113.5h7M406.5 110v7M403 112.5h7M406.5 109v7M404 114.5h7M407.5 111v7M404 111.5h7M407.5 108v7M405 111.5h7M408.5 108v7M405 112.5h7M408.5 109v7M405 114.5h7M408.5 111v7M406 115.5h7M409.5 112v7M406 113.5h7M409.5 110v7M406 114.5h7M409.5 111v7M406 109.5h7M409.5 106v7M407 113.5h7M410.5 110v7M407 112.5h7M410.5 109v7M408 113.5h7M411.5 110v7M408 111.5h7M411.5 108v7M408 114.5h7M411.5 111v7M409 113.5h7M412.5 110v7M409 114.5h7M412.5 111v7M409 112.5h7M412.5 109v7M410 110.5h7M413.5 107v7M410 115.5h7M413.5 112v7M410 114.5h7M413.5 111v7M410 116.5h7M413.5 113v7M411 116.5h7M414.5 113v7M411 114.5h7M414.5 111v7M411 111.5h7M414.5 108v7M412 114.5h7M415.5 111v7M412 113.5h7M415.5 110v7M413 115.5h7M416.5 112v7M413 114.5h7M416.5 111v7M414 115.5h7M417.5 112v7M414 114.5h7M417.5 111v7M414 112.5h7M417.5 109v7M415 113.5h7M418.5 110v7M415 112.5h7M418.5 109v7M415 111.5h7M418.5 108v7M416 111.5h7M419.5 108v7M416 112.5h7M419.5 109v7M416 115.5h7M419.5 112v7M417 112.5h7M420.5 109v7M417 113.5h7M420.5 110v7M418 112.5h7M421.5 109v7M418 113.5h7M421.5 110v7M418 111.5h7M421.5 108v7M419 112.5h7M422.5 109v7M419 113.5h7M422.5 110v7M419 114.5h7M422.5 111v7M420 111.5h7M423.5 108v7M420 112.5h7M423.5 109v7M420 113.5h7M423.5 110v7M421 110.5h7M424.5 107v7M421 112.5h7M424.5 109v7M421 111.5h7M424.5 108v7M422 113.5h7M425.5 110v7M422 111.5h7M425.5 108v7M423 111.5h7M426.5 108v7M424 111.5h7M427.5 108v7M424 112.5h7M427.5 109v7M425 112.5h7M428.5 109v7M425 110.5h7M428.5 107v7M425 113.5h7M428.5 110v7M426 112.5h7M429.5 109v7M426 110.5h7M429.5 107v7M427 112.5h7M430.5 109v7M427 111.5h7M430.5 108v7M427 114.5h7M430.5 111v7M427 113.5h7M430.5 110v7M428 112.5h7M431.5 109v7M428 111.5h7M431.5 108v7M428 115.5h7M431.5 112v7M428 114.5h7M431.5 111v7M429 114.5h7M432.5 111v7M429 112.5h7M432.5 109v7M430 113.5h7M433.5 110v7M430 112.5h7M433.5 109v7M430 114.5h7M433.5 111v7M431 115.5h7M434.5 112v7M431 114.5h7M434.5 111v7M431 113.5h7M434.5 110v7M432 112.5h7M435.5 109v7M432 113.5h7M435.5 110v7M432 114.5h7M435.5 111v7M433 113.5h7M436.5 110v7M433 112.5h7M436.5 109v7M434 114.5h7M437.5 111v7M434 113.5h7M437.5 110v7M434 115.5h7M437.5 112v7M435 114.5h7M438.5 111v7M435 115.5h7M438.5 112v7M436 113.5h7M439.5 110v7M436 114.5h7M439.5 111v7M437 116.5h7M440.5 113v7M437 115.5h7M440.5 112v7M437 112.5h7M440.5 109v7M437 113.5h7M440.5 110v7M438 112.5h7M441.5 109v7M438 114.5h7M441.5 111v7M438 113.5h7M441.5 110v7M439 113.5h7M442.5 110v7M440 113.5h7M443.5 110v7M440 112.5h7M443.5 109v7M441 112.5h7M444.5 109v7M441 113.5h7M444.5 110v7M442 110.5h7M445.5 107v7M442 113.5h7M445.5 110v7M442 112.5h7M445.5 109v7M443 113.5h7M446.5 110v7M443 112.5h7M446.5 109v7M443 111.5h7M446.5 108v7M444 113.5h7M447.5 110v7M444 115.5h7M447.5 112v7M444 114.5h7M447.5 111v7M445 112.5h7M448.5 109v7M445 113.5h7M448.5 110v7M446 113.5h7M449.5 110v7M446 111.5h7M449.5 108v7M446 112.5h7M449.5 109v7M447 111.5h7M450.5 108v7M447 113.5h7M450.5 110v7M447 112.5h7M450.5 109v7M448 112.5h7M451.5 109v7M448 113.5h7M451.5 110v7M449 115.5h7M452.5 112v7M449 114.5h7M452.5 111v7M450 112.5h7M453.5 109v7M450 113.5h7M453.5 110v7M450 114.5h7M453.5 111v7M450 115.5h7M453.5 112v7M451 114.5h7M454.5 111v7M452 114.5h7M455.5 111v7M452 113.5h7M455.5 110v7M452 112.5h7M455.5 109v7M453 113.5h7M456.5 110v7M453 114.5h7M456.5 111v7M453 115.5h7M456.5 112v7M454 112.5h7M457.5 109v7M454 114.5h7M457.5 111v7M454 113.5h7M457.5 110v7M455 112.5h7M458.5 109v7M455 113.5h7M458.5 110v7M456 115.5h7M459.5 112v7M456 114.5h7M459.5 111v7M456 113.5h7M459.5 110v7M456 112.5h7M459.5 109v7M457 113.5h7M460.5 110v7M457 112.5h7M460.5 109v7M458 113.5h7M461.5 110v7M458 112.5h7M461.5 109v7M458 110.5h7M461.5 107v7M459 112.5h7M462.5 109v7M459 109.5h7M462.5 106v7M460 112.5h7M463.5 109v7M460 113.5h7M463.5 110v7M461 111.5h7M464.5 108v7M461 112.5h7M464.5 109v7M461 113.5h7M464.5 110v7M462 111.5h7M465.5 108v7M462 112.5h7M465.5 109v7M463 112.5h7M466.5 109v7M463 113.5h7M466.5 110v7M463 114.5h7M466.5 111v7M464 113.5h7M467.5 110v7M465 114.5h7M468.5 111v7M465 113.5h7M468.5 110v7M465 110.5h7M468.5 107v7M466 114.5h7M469.5 111v7M466 113.5h7M469.5 110v7M467 112.5h7M470.5 109v7M467 114.5h7M470.5 111v7M467 113.5h7M470.5 110v7M468 112.5h7M471.5 109v7M468 114.5h7M471.5 111v7M468 113.5h7M471.5 110v7M469 113.5h7M472.5 110v7M470 113.5h7M473.5 110v7M471 113.5h7M474.5 110v7M471 114.5h7M474.5 111v7M472 113.5h7M475.5 110v7M472 112.5h7M475.5 109v7M472 114.5h7M475.5 111v7M473 114.5h7M476.5 111v7M473 113.5h7M476.5 110v7M474 114.5h7M477.5 111v7M474 113.5h7M477.5 110v7M475 114.5h7M478.5 111v7M475 113.5h7M478.5 110v7M476 113.5h7M479.5 110v7M476 114.5h7M479.5 111v7M476 112.5h7M479.5 109v7M477 114.5h7M480.5 111v7M477 111.5h7M480.5 108v7M478 109.5h7M481.5 106v7M478 113.5h7M481.5 110v7M478 112.5h7M481.5 109v7M478 110.5h7M481.5 107v7M479 112.5h7M482.5 109v7M479 113.5h7M482.5 110v7M480 113.5h7M483.5 110v7M480 112.5h7M483.5 109v7M481 112.5h7M484.5 109v7M481 113.5h7M484.5 110v7M482 114.5h7M485.5 111v7M482 113.5h7M485.5 110v7M483 112.5h7M486.5 109v7M483 113.5h7M486.5 110v7M484 112.5h7M487.5 109v7M484 114.5h7M487.5 111v7M484 113.5h7M487.5 110v7M485 114.5h7M488.5 111v7M485 112.5h7M488.5 109v7M485 113.5h7M488.5 110v7M486 113.5h7M489.5 110v7M486 112.5h7M489.5 109v7M487 112.5h7M490.5 109v7M487 113.5h7M490.5 110v7M487 114.5h7M490.5 111v7M488 113.5h7M491.5 110v7M488 114.5h7M491.5 111v7M489 116.5h7M492.5 113v7M489 113.5h7M492.5 110v7M489 115.5h7M492.5 112v7M489 114.5h7M492.5 111v7M490 114.5h7M493.5 111v7M490 116.5h7M493.5 113v7M490 113.5h7M493.5 110v7M491 114.5h7M494.5 111v7M491 113.5h7M494.5 110v7M492 113.5h7M495.5 110v7M492 114.5h7M495.5 111v7M492 111.5h7M495.5 108v7M493 114.5h7M496.5 111v7M493 113.5h7M496.5 110v7M493 112.5h7M496.5 109v7M494 113.5h7M497.5 110v7M494 114.5h7M497.5 111v7M494 112.5h7M497.5 109v7M495 111.5h7M498.5 108v7M495 112.5h7M498.5 109v7M495 113.5h7M498.5 110v7M496 113.5h7M499.5 110v7M496 114.5h7M499.5 111v7M496 112.5h7M499.5 109v7M497 113.5h7M500.5 110v7M497 112.5h7M500.5 109v7M498 112.5h7M501.5 109v7M498 111.5h7M501.5 108v7M498 108.5h7M501.5 105v7M499 113.5h7M502.5 110v7M499 110.5h7M502.5 107v7M499 111.5h7M502.5 108v7M500 112.5h7M503.5 109v7M500 113.5h7M503.5 110v7M501 113.5h7M504.5 110v7M501 114.5h7M504.5 111v7M501 115.5h7M504.5 112v7M502 114.5h7M505.5 111v7M502 113.5h7M505.5 110v7M502 115.5h7M505.5 112v7M502 112.5h7M505.5 109v7M503 113.5h7M506.5 110v7M503 112.5h7M506.5 109v7M503 114.5h7M506.5 111v7M504 114.5h7M507.5 111v7M504 112.5h7M507.5 109v7M504 113.5h7M507.5 110v7M505 113.5h7M508.5 110v7M505 114.5h7M508.5 111v7M506 112.5h7M509.5 109v7M506 114.5h7M509.5 111v7M506 111.5h7M509.5 108v7M507 112.5h7M510.5 109v7M507 113.5h7M510.5 110v7M508 113.5h7M511.5 110v7M508 115.5h7M511.5 112v7M509 113.5h7M512.5 110v7M509 114.5h7M512.5 111v7M509 112.5h7M512.5 109v7M510 116.5h7M513.5 113v7M510 112.5h7M513.5 109v7M510 113.5h7M513.5 110v7M511 114.5h7M514.5 111v7M511 113.5h7M514.5 110v7M512 114.5h7M515.5 111v7M512 113.5h7M515.5 110v7M513 115.5h7M516.5 112v7M513 113.5h7M516.5 110v7M514 113.5h7M517.5 110v7M514 114.5h7M517.5 111v7M514 115.5h7M517.5 112v7M515 115.5h7M518.5 112v7M515 114.5h7M518.5 111v7M515 110.5h7M518.5 107v7M516 112.5h7M519.5 109v7M516 111.5h7M519.5 108v7M517 114.5h7M520.5 111v7M517 113.5h7M520.5 110v7M518 114.5h7M521.5 111v7M518 113.5h7M521.5 110v7M519 114.5h7M522.5 111v7M519 113.5h7M522.5 110v7M520 114.5h7M523.5 111v7M520 112.5h7M523.5 109v7M520 113.5h7M523.5 110v7M521 114.5h7M524.5 111v7M521 113.5h7M524.5 110v7M522 112.5h7M525.5 109v7M522 115.5h7M525.5 112v7M522 114.5h7M525.5 111v7M523 114.5h7M526.5 111v7M523 113.5h7M526.5 110v7M524 114.5h7M527.5 111v7M525 113.5h7M528.5 110v7M525 114.5h7M528.5 111v7M525 112.5h7M528.5 109v7M526 113.5h7M529.5 110v7M526 112.5h7M529.5 109v7M527 112.5h7M530.5 109v7M527 111.5h7M530.5 108v7M527 113.5h7M530.5 110v7M528 112.5h7M531.5 109v7M528 111.5h7M531.5 108v7M529 111.5h7M532.5 108v7M529 112.5h7M532.5 109v7M529 113.5h7M532.5 110v7M530 113.5h7M533.5 110v7M530 115.5h7M533.5 112v7M531 116.5h7M534.5 113v7M531 114.5h7M534.5 111v7M532 115.5h7M535.5 112v7M532 114.5h7M535.5 111v7M532 113.5h7M535.5 110v7M533 113.5h7M536.5 110v7M533 114.5h7M536.5 111v7M534 114.5h7M537.5 111v7M534 113.5h7M537.5 110v7M535 115.5h7M538.5 112v7M535 114.5h7M538.5 111v7M536 113.5h7M539.5 110v7M536 114.5h7M539.5 111v7M537 114.5h7M540.5 111v7M537 115.5h7M540.5 112v7M538 113.5h7M541.5 110v7M538 115.5h7M541.5 112v7M538 114.5h7M541.5 111v7M539 113.5h7M542.5 110v7M539 112.5h7M542.5 109v7M540 114.5h7M543.5 111v7M540 113.5h7M543.5 110v7M540 112.5h7M543.5 109v7M540 111.5h7M543.5 108v7M541 116.5h7M544.5 113v7M541 112.5h7M544.5 109v7M541 114.5h7M544.5 111v7M542 112.5h7M545.5 109v7M542 113.5h7M545.5 110v7M543 113.5h7M546.5 110v7M543 114.5h7M546.5 111v7M544 115.5h7M547.5 112v7M544 113.5h7M547.5 110v7M545 114.5h7M548.5 111v7M545 116.5h7M548.5 113v7M545 115.5h7M548.5 112v7M545 113.5h7M548.5 110v7M546 113.5h7M549.5 110v7M546 112.5h7M549.5 109v7M547 115.5h7M550.5 112v7M547 113.5h7M550.5 110v7M548 113.5h7M551.5 110v7M548 114.5h7M551.5 111v7M549 114.5h7M552.5 111v7M549 113.5h7M552.5 110v7M550 114.5h7M553.5 111v7M550 113.5h7M553.5 110v7M551 114.5h7M554.5 111v7M551 113.5h7M554.5 110v7M552 114.5h7M555.5 111v7M552 112.5h7M555.5 109v7M553 113.5h7M556.5 110v7M553 112.5h7M556.5 109v7M554 112.5h7M557.5 109v7M554 114.5h7M557.5 111v7M554 113.5h7M557.5 110v7M554 110.5h7M557.5 107v7M555 112.5h7M558.5 109v7M555 111.5h7M558.5 108v7M555 113.5h7M558.5 110v7M556 110.5h7M559.5 107v7M556 113.5h7M559.5 110v7M556 112.5h7M559.5 109v7M557 114.5h7M560.5 111v7M557 113.5h7M560.5 110v7M534 118.5h7M537.5 115v7M487 117.5h7M490.5 114v7M88 177.5h7M91.5 174v7M215 138.5h7M218.5 135v7M215 140.5h7M218.5 137v7M215 144.5h7M218.5 141v7M215 152.5h7M218.5 149v7M487 159.5h7M490.5 156v7M557 427.5h7M560.5 424v7M571 57.5h7M574.5 54v7" stroke="#9400d3" stroke-width="1" fill="none"/>
<rect x="91.5" y="45.5" width="521" height="386" fill="none" stroke="#000" stroke-width="1"/>
<text x="82.4" y="435.20" text-anchor="end" letter-spacing="0.2">0</text>
<text x="82.4" y="386.20" text-anchor="end" letter-spacing="0.2">2000</text>
<text x="82.4" y="337.20" text-anchor="end" letter-spacing="0.2">4000</text>
<text x="82.4" y="288.20" text-anchor="end" letter-spacing="0.2">6000</text>
<text x="82.4" y="239.20" text-anchor="end" letter-spacing="0.2">8000</text>
<text x="82.4" y="190.20" text-anchor="end" letter-spacing="0.2">10000</text>
<text x="82.4" y="141.20" text-anchor="end" letter-spacing="0.2">12000</text>
<text x="82.4" y="92.20" text-anchor="end" letter-spacing="0.2">14000</text>
<text x="92.80" y="449.6" text-anchor="middle">0</text>
<text x="144.80" y="449.6" text-anchor="middle">200</text>
<text x="196.80" y="449.6" text-anchor="middle">400</text>
<text x="248.80" y="449.6" text-anchor="middle">600</text>
<text x="300.80" y="449.6" text-anchor="middle">800</text>
<text x="353.80" y="449.6" text-anchor="middle">1000</text>
<text x="405.80" y="449.6" text-anchor="middle">1200</text>
<text x="457.80" y="449.6" text-anchor="middle">1400</text>
<text x="509.80" y="449.6" text-anchor="middle">1600</text>
<text x="561.80" y="449.6" text-anchor="middle">1800</text>
<text x="613.80" y="449.6" text-anchor="middle">2000</text>
<text x="350.8" y="26.5" text-anchor="middle">QPS vs Time for qp500.L4</text>
<text x="350.5" y="472" text-anchor="middle">Time(s)</text>
<text transform="translate(17.05,237.1) rotate(-90)" text-anchor="middle">QPS</text>
<text x="544.8" y="61.3" text-anchor="end" letter-spacing="-0.1">pg171<tspan font-size="13.4px" dy="4.0">o</tspan><tspan dy="-4.0">2nofp.cx10a</tspan><tspan font-size="13.4px" dy="4.0">c</tspan><tspan dy="-4.0">8r32</tspan></text>
</svg></body></html>
